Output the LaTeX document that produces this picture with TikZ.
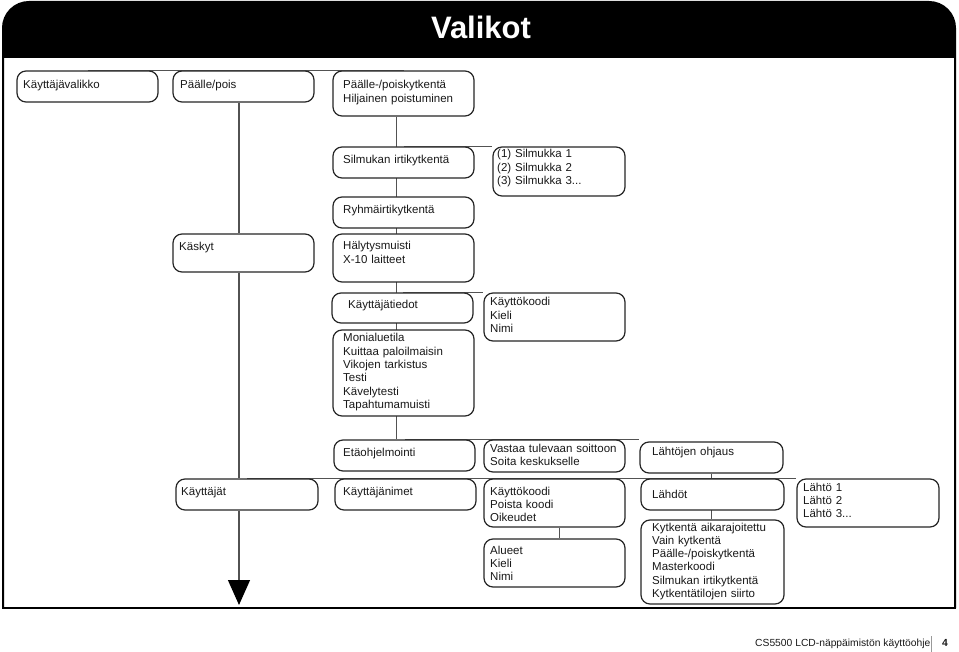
\documentclass[tikz,border=0pt]{standalone}
\usepackage{fontspec}
\setmainfont{Liberation Sans}
\usetikzlibrary{fit,calc,arrows.meta}
\pgfdeclarelayer{framelayer}
\pgfdeclarelayer{connlayer}
\pgfsetlayers{framelayer,connlayer,main}
\tikzset{
 box/.style={draw=black!85, line width=1.2pt, rounded corners=9pt, fill=white, inner sep=0pt},
 txt/.style={anchor=base west, inner sep=0pt, text width=160pt, align=left, font=\fontsize{11.5}{13.3}\selectfont, text=black!90},
 conn/.style={draw=black!68, line width=1.2pt},
}
\newcommand\mkbox[5]{\node[box, fit={(#2,#3) (#4,#5)}] (#1) {};}
\newcommand\mktxt[4]{\node[txt] (#1) at (#2,#3) {#4};}
\begin{document}
\begin{tikzpicture}[x=1pt,y=-1pt]
\useasboundingbox (0,0) rectangle (959,652);
% frame and header
\begin{pgfonlayer}{framelayer}
\fill[black, rounded corners=26pt] (3,100) -- (3,2) -- (955,2) -- (955,100) -- cycle;
\fill[white] (3,58) rectangle (955,608);
\draw[black, line width=2pt, rounded corners=26pt] (3,608) -- (3,2) -- (955,2) -- (955,608);
\draw[black, line width=2pt, line cap=rect] (955,608) -- (3,608);
\end{pgfonlayer}
\node[anchor=base, font=\bfseries\fontsize{31}{31}\selectfont, text=white, inner sep=0pt] (title) at (481,38.5) {Valikot};
% boxes
\mkbox{b1}{17}{71}{158}{102}
\mkbox{b2}{173}{71}{314}{102}
\mkbox{b3}{333}{71}{474}{116}
\mkbox{b4}{333}{147}{474}{178}
\mkbox{b5}{333}{197}{474}{228}
\mkbox{b6}{493}{147}{625}{196}
\mkbox{b7}{173}{234}{314}{272}
\mkbox{b8}{333}{234}{474}{282}
\mkbox{b9}{332}{293}{473}{323}
\mkbox{b10}{484}{293}{625}{341}
\mkbox{b11}{333}{330}{474}{416}
\mkbox{b12}{334}{440}{475}{471}
\mkbox{b13}{484}{440}{625}{472}
\mkbox{b14}{640}{442}{783}{473}
\mkbox{b15}{176}{479}{318}{510}
\mkbox{b16}{335}{479}{476}{510}
\mkbox{b17}{484}{479}{625}{527}
\mkbox{b18}{484}{539}{625}{587}
\mkbox{b19}{641}{479}{784}{510}
\mkbox{b20}{797}{479}{939}{527}
\mkbox{b21}{641}{520}{784}{604}
% texts
\mktxt{t1}{23}{89}{Käyttäjävalikko}
\mktxt{t2}{180}{89}{Päälle/pois}
\mktxt{t3}{343}{89}{Päälle-/poiskytkentä\\Hiljainen poistuminen}
\mktxt{t4}{343}{164}{Silmukan irtikytkentä}
\mktxt{t5}{343}{214}{Ryhmäirtikytkentä}
\mktxt{t6}{497}{158}{(1) Silmukka 1\\(2) Silmukka 2\\(3) Silmukka 3...}
\mktxt{t7}{179}{251}{Käskyt}
\mktxt{t8}{343}{250}{Hälytysmuisti\\X-10 laitteet}
\mktxt{t9}{348}{309}{Käyttäjätiedot}
\mktxt{t10}{490}{306}{Käyttökoodi\\Kieli\\Nimi}
\mktxt{t11}{343}{342}{Monialuetila\\Kuittaa paloilmaisin\\Vikojen tarkistus\\Testi\\Kävelytesti\\Tapahtumamuisti}
\mktxt{t12}{343}{456}{Etäohjelmointi}
\mktxt{t13}{490}{452}{Vastaa tulevaan soittoon\\Soita keskukselle}
\mktxt{t14}{652}{455}{Lähtöjen ohjaus}
\mktxt{t15}{181}{495}{Käyttäjät}
\mktxt{t16}{343}{495}{Käyttäjänimet}
\mktxt{t17}{490}{495}{Käyttökoodi\\Poista koodi\\Oikeudet}
\mktxt{t18}{490}{554}{Alueet\\Kieli\\Nimi}
\mktxt{t19}{652}{498}{Lähdöt}
\mktxt{t20}{803}{491}{Lähtö 1\\Lähtö 2\\Lähtö 3...}
\mktxt{t21}{652}{531}{Kytkentä aikarajoitettu\\Vain kytkentä\\Päälle-/poiskytkentä\\Masterkoodi\\Silmukan irtikytkentä\\Kytkentätilojen siirto}
\coordinate (tip) at (239,605);
% connectors
\begin{pgfonlayer}{connlayer}
\draw[conn] (b1.north) -- (b3.north);
\draw[conn] ($(b3.south west)+(64,0)$) -- ($(b12.north west)+(63,0)$);
\draw[conn] (b4.north) -- (b6.north west);
\draw[conn] (b9.north) -- (b10.north west);
\draw[conn] (b12.north) -- (b12.north -| b14.west);
\draw[conn] (b15.north) -- (b20.north west);
\draw[conn] ($(b17.south west)+(76,0)$) -- ($(b18.north west)+(76,0)$);
\draw[conn] (b14.south) -- (b14.south |- b21.north);
\draw[conn] (b2.south -| tip) -- (b7.north -| tip);
\draw[conn] (b7.south -| tip) -- (b15.north -| tip);
\end{pgfonlayer}
\draw[conn, -{Triangle[width=22pt,length=25pt,color=black,fill=black]}] (b15.south -| tip) -- (tip);
% footer
\node[anchor=base west, inner sep=0pt, font=\fontsize{10.3}{12}\selectfont, text=black!90] (foot) at (755,646.5) {CS5500 LCD-näppäimistön käyttöohje};
\node[anchor=base west, inner sep=0pt, font=\bfseries\fontsize{10.3}{12}\selectfont, text=black!90] (page) at (942,646.5) {4};
\coordinate (bartop) at (931,636);
\coordinate (barbot) at (931,652);
\draw[black!40, line width=1pt] (bartop) -- (barbot);
\end{tikzpicture}
\end{document}
